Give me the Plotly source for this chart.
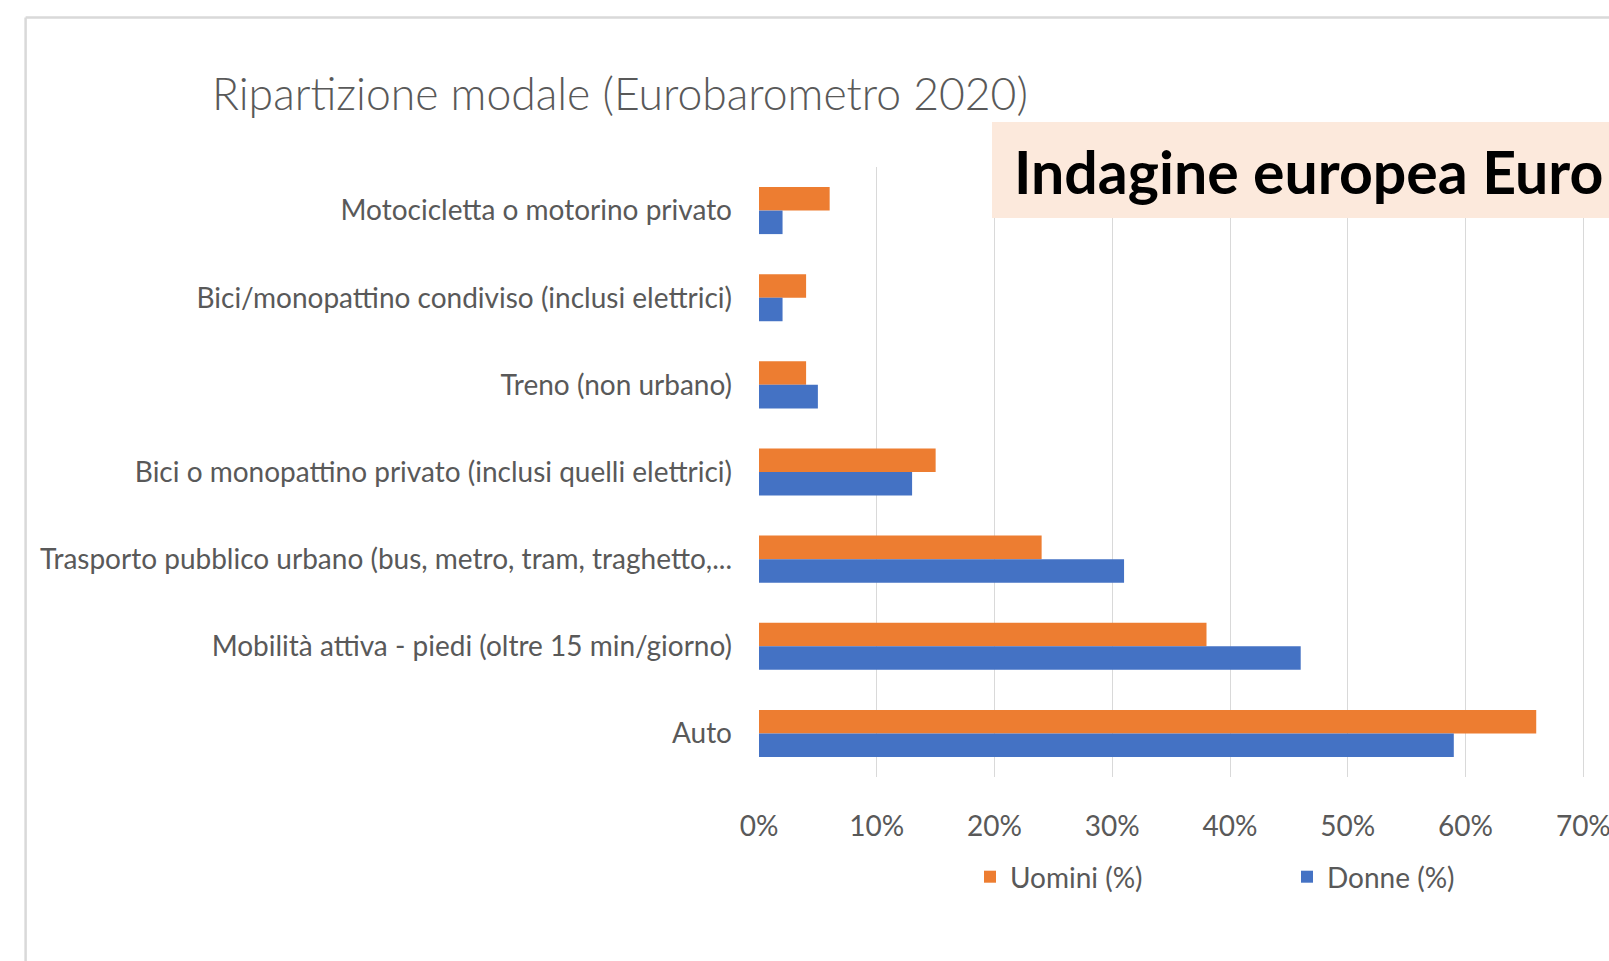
import plotly.graph_objects as go

categories = [
    "Motocicletta o motorino privato",
    "Bici/monopattino condiviso (inclusi elettrici)",
    "Treno (non urbano)",
    "Bici o monopattino privato (inclusi quelli elettrici)",
    "Trasporto pubblico urbano (bus, metro, tram, traghetto,...",
    "Mobilità attiva - piedi (oltre 15 min/giorno)",
    "Auto",
]
uomini = [6, 4, 4, 15, 24, 38, 66]
donne = [2, 2, 5, 13, 31, 46, 59]
x_ticks = [0, 10, 20, 30, 40, 50, 60, 70]
x_tick_labels = ["0%", "10%", "20%", "30%", "40%", "50%", "60%", "70%"]

W, H = 1609, 961
L, R, T, B = 759, 8, 167, 184
FONT = "Lato, Roboto, sans-serif"
GREY = "#595959"


def px(x):
    return (x - L) / (W - L - R)


def py(y):
    return 1 - (y - T) / (H - T - B)


fig = go.Figure()
fig.add_trace(go.Bar(y=categories, x=uomini, name="Uomini (%)", orientation="h",
                     marker=dict(color="#ED7D31", line=dict(width=0))))
fig.add_trace(go.Bar(y=categories, x=donne, name="Donne (%)", orientation="h",
                     marker=dict(color="#4472C4", line=dict(width=0))))

fig.update_layout(
    width=W, height=H,
    margin=dict(l=L, r=R, t=T, b=B, autoexpand=False),
    paper_bgcolor="white", plot_bgcolor="white",
    barmode="group", bargap=0.46, bargroupgap=0,
    font=dict(family=FONT, color=GREY, size=28),
    title=dict(text="Ripartizione modale (Eurobarometro 2020)",
               x=212 / W, xanchor="left", xref="container",
               y=1 - 94 / H, yanchor="middle", yref="container",
               font=dict(family=FONT, size=44.5, color=GREY, weight=300)),
    xaxis=dict(range=[0, 71.5], tickvals=x_ticks, ticktext=x_tick_labels,
               showgrid=True, gridcolor="#d9d9d9", gridwidth=1.3,
               zeroline=False, showline=False, ticks="",
               ticklabeloverflow="allow", automargin=False,
               ticklabelstandoff=30, tickfont=dict(size=28, color=GREY)),
    yaxis=dict(autorange="reversed", categoryorder="array", categoryarray=categories,
               showgrid=False, zeroline=False, showline=False, ticks="",
               automargin=False,
               ticklabelstandoff=26, tickfont=dict(size=28, color=GREY)),
    legend=dict(orientation="h", x=px(970), xanchor="left", y=py(877), yanchor="middle",
                entrywidth=272, entrywidthmode="pixels", font=dict(size=28, color=GREY),
                bgcolor="rgba(0,0,0,0)"),
    showlegend=True,
)

# outer border (top + left)
fig.add_shape(type="line", xref="paper", yref="paper",
              x0=px(25.6), x1=px(1700), y0=py(17.4), y1=py(17.4),
              line=dict(color="#d9d9d9", width=2.5))
fig.add_shape(type="line", xref="paper", yref="paper",
              x0=px(25.6), x1=px(25.6), y0=py(17.4), y1=py(1100),
              line=dict(color="#d9d9d9", width=2.5))
# peach highlight box
fig.add_shape(type="rect", xref="paper", yref="paper", layer="above",
              x0=px(992), x1=px(1700), y0=py(122), y1=py(218),
              fillcolor="#FCE9DC", line=dict(width=0))
fig.add_annotation(text="<b>Indagine europea Euro</b>", xref="paper", yref="paper",
                   x=px(1012), xanchor="left", y=py(171), yanchor="middle", showarrow=False,
                   font=dict(family=FONT, size=59, color="black"))

fig.write_html("out.html", config={"displayModeBar": False},
               post_script="document.body.style.margin='0';document.body.style.overflow='hidden';")
